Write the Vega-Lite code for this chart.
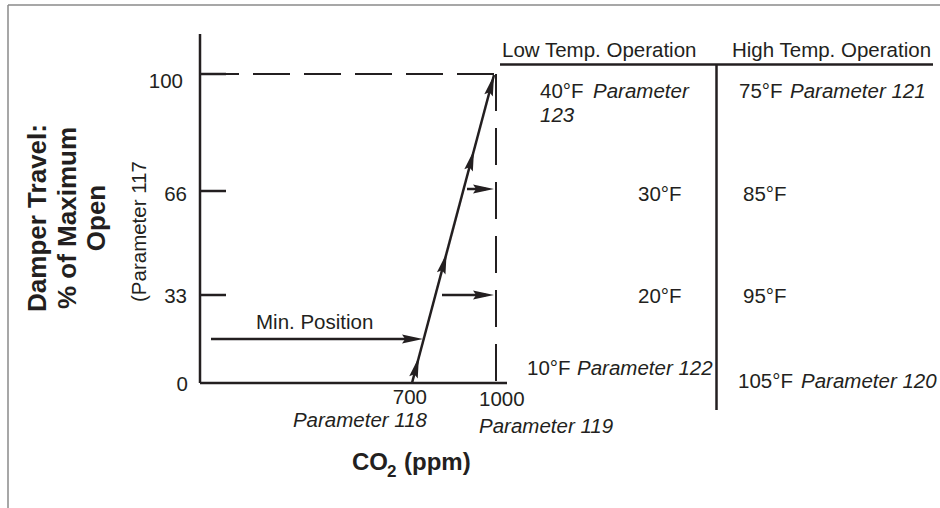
{
  "$schema": "https://vega.github.io/schema/vega-lite/v6.json",
  "width": 940,
  "height": 508,
  "autosize": {"type": "none"},
  "padding": 0,
  "background": "white",
  "config": {"view": {"stroke": null}},
  "datasets": {
    "frame": [
      {"x": 8, "y": 5, "x2": 940, "y2": 5},
      {"x": 8, "y": 5, "x2": 8, "y2": 508}
    ],
    "solid": [
      {"part": "y axis", "x": 200, "y": 34, "x2": 200, "y2": 383},
      {"part": "x axis", "x": 200, "y": 383, "x2": 507, "y2": 383},
      {"part": "tick 100", "x": 200, "y": 74, "x2": 226, "y2": 74},
      {"part": "tick 66", "x": 200, "y": 191, "x2": 226, "y2": 191},
      {"part": "tick 33", "x": 200, "y": 295, "x2": 226, "y2": 295},
      {"part": "ramp", "x": 412, "y": 383, "x2": 494, "y2": 75},
      {"part": "min position", "x": 211, "y": 339, "x2": 412, "y2": 339},
      {"part": "arrow 66", "x": 467, "y": 189, "x2": 486, "y2": 189},
      {"part": "arrow 33", "x": 442, "y": 295, "x2": 486, "y2": 295},
      {"part": "table header", "x": 500, "y": 64.5, "x2": 933, "y2": 64.5},
      {"part": "table divider", "x": 716.5, "y": 64.5, "x2": 716.5, "y2": 410}
    ],
    "dashH": [
      {"part": "100 level", "x": 202, "y": 74, "x2": 494, "y2": 74}
    ],
    "dashV": [
      {"part": "1000 ppm", "x": 496, "y": 74, "x2": 496, "y2": 383}
    ],
    "headsRamp": [
      {"x": 491.3, "y": 85.2},
      {"x": 471.3, "y": 160.2},
      {"x": 443.9, "y": 263.2},
      {"x": 416.2, "y": 367.2}
    ],
    "headsRight": [
      {"x": 483.5, "y": 189},
      {"x": 483.5, "y": 295},
      {"x": 412.5, "y": 339}
    ],
    "txtLeft": [
      {"t": "Low Temp. Operation", "x": 502, "y": 57},
      {"t": "High Temp. Operation", "x": 732, "y": 57},
      {"t": "40°F", "x": 540, "y": 98},
      {"t": "75°F", "x": 739, "y": 98},
      {"t": "30°F", "x": 638, "y": 201},
      {"t": "85°F", "x": 743, "y": 201},
      {"t": "20°F", "x": 638, "y": 303},
      {"t": "95°F", "x": 743, "y": 303},
      {"t": "10°F", "x": 527, "y": 375},
      {"t": "105°F", "x": 738, "y": 388},
      {"t": "1000", "x": 479, "y": 406},
      {"t": "Min. Position", "x": 256, "y": 329}
    ],
    "txtRight": [
      {"t": "100", "x": 183, "y": 88},
      {"t": "66", "x": 187, "y": 201},
      {"t": "33", "x": 187, "y": 303},
      {"t": "0", "x": 188, "y": 391},
      {"t": "700", "x": 427, "y": 404}
    ],
    "italLeft": [
      {"t": "Parameter", "x": 593, "y": 98},
      {"t": "123", "x": 540, "y": 122},
      {"t": "Parameter 121", "x": 790, "y": 98},
      {"t": "Parameter 122", "x": 577, "y": 375},
      {"t": "Parameter 120", "x": 801, "y": 388},
      {"t": "Parameter 119", "x": 479, "y": 433}
    ],
    "italRight": [
      {"t": "Parameter 118", "x": 427, "y": 427}
    ],
    "yTitle": [
      {"t": "Damper Travel:", "x": 46, "y": 218},
      {"t": "% of Maximum", "x": 76, "y": 218},
      {"t": "Open", "x": 105, "y": 218}
    ],
    "yNote": [
      {"t": "(Parameter 117", "x": 146, "y": 302}
    ],
    "xTitle": [
      {"t": "CO", "x": 352, "y": 470},
      {"t": "(ppm)", "x": 404, "y": 470}
    ],
    "xTitleSub": [
      {"t": "2", "x": 387, "y": 477}
    ]
  },
  "encoding": {
    "x": {"field": "x", "type": "quantitative", "scale": {"domain": [0, 940], "nice": false, "zero": false}, "axis": null},
    "y": {"field": "y", "type": "quantitative", "scale": {"domain": [0, 508], "nice": false, "zero": false, "reverse": true}, "axis": null}
  },
  "layer": [
    {
      "data": {"name": "frame"},
      "mark": {"type": "rule", "color": "#8a8a8a", "strokeWidth": 1.5},
      "encoding": {"x2": {"field": "x2"}, "y2": {"field": "y2"}}
    },
    {
      "data": {"name": "dashH"},
      "mark": {"type": "rule", "color": "#231f20", "strokeWidth": 2, "strokeDash": [37, 14]},
      "encoding": {"x2": {"field": "x2"}, "y2": {"field": "y2"}}
    },
    {
      "data": {"name": "dashV"},
      "mark": {"type": "rule", "color": "#231f20", "strokeWidth": 2, "strokeDash": [37, 17]},
      "encoding": {"x2": {"field": "x2"}, "y2": {"field": "y2"}}
    },
    {
      "data": {"name": "solid"},
      "mark": {"type": "rule", "color": "#231f20", "strokeWidth": 2.5},
      "encoding": {"x2": {"field": "x2"}, "y2": {"field": "y2"}}
    },
    {
      "data": {"name": "headsRamp"},
      "mark": {"type": "point", "shape": "M0,-1L0.42,1L0,0.7L-0.42,1Z", "size": 441, "angle": 15, "filled": true, "color": "#231f20", "opacity": 1, "strokeWidth": 0}
    },
    {
      "data": {"name": "headsRight"},
      "mark": {"type": "point", "shape": "M0,-1L0.42,1L0,0.7L-0.42,1Z", "size": 441, "angle": 90, "filled": true, "color": "#231f20", "opacity": 1, "strokeWidth": 0}
    },
    {
      "data": {"name": "txtLeft"},
      "mark": {"type": "text", "font": "Liberation Sans", "fontSize": 20.5, "align": "left", "baseline": "alphabetic", "color": "#231f20"},
      "encoding": {"text": {"field": "t"}}
    },
    {
      "data": {"name": "txtRight"},
      "mark": {"type": "text", "font": "Liberation Sans", "fontSize": 20.5, "align": "right", "baseline": "alphabetic", "color": "#231f20"},
      "encoding": {"text": {"field": "t"}}
    },
    {
      "data": {"name": "italLeft"},
      "mark": {"type": "text", "font": "Liberation Sans", "fontSize": 20.5, "fontStyle": "italic", "align": "left", "baseline": "alphabetic", "color": "#231f20"},
      "encoding": {"text": {"field": "t"}}
    },
    {
      "data": {"name": "italRight"},
      "mark": {"type": "text", "font": "Liberation Sans", "fontSize": 20.5, "fontStyle": "italic", "align": "right", "baseline": "alphabetic", "color": "#231f20"},
      "encoding": {"text": {"field": "t"}}
    },
    {
      "data": {"name": "yTitle"},
      "mark": {"type": "text", "font": "Liberation Sans", "fontSize": 26, "fontWeight": "bold", "align": "center", "baseline": "alphabetic", "angle": 270, "color": "#231f20"},
      "encoding": {"text": {"field": "t"}}
    },
    {
      "data": {"name": "yNote"},
      "mark": {"type": "text", "font": "Liberation Sans", "fontSize": 20.5, "align": "left", "baseline": "alphabetic", "angle": 270, "color": "#231f20"},
      "encoding": {"text": {"field": "t"}}
    },
    {
      "data": {"name": "xTitle"},
      "mark": {"type": "text", "font": "Liberation Sans", "fontSize": 24, "fontWeight": "bold", "align": "left", "baseline": "alphabetic", "color": "#231f20"},
      "encoding": {"text": {"field": "t"}}
    },
    {
      "data": {"name": "xTitleSub"},
      "mark": {"type": "text", "font": "Liberation Sans", "fontSize": 17, "fontWeight": "bold", "align": "left", "baseline": "alphabetic", "color": "#231f20"},
      "encoding": {"text": {"field": "t"}}
    }
  ]
}
